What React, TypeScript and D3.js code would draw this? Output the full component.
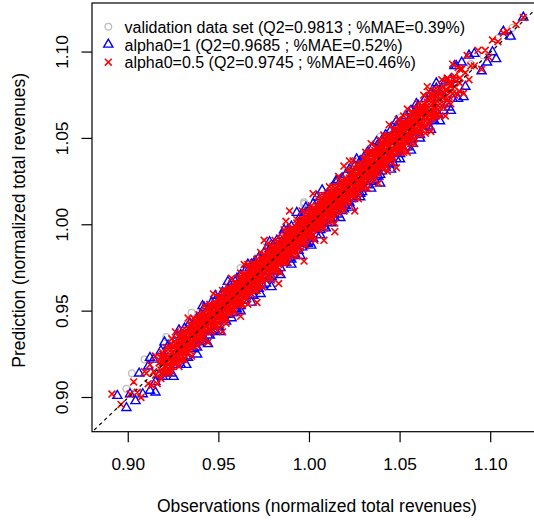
import React from 'react';
import * as d3 from 'd3';

type Pt = [number, number];

const xTicks = [0.9, 0.95, 1.0, 1.05, 1.1];
const yTicks = [0.9, 0.95, 1.0, 1.05, 1.1];
const xTitle = 'Observations (normalized total revenues)';
const yTitle = 'Prediction (normalized total revenues)';
const legendLabels = [
  'validation data set (Q2=0.9813 ; %MAE=0.39%)',
  'alpha0=1 (Q2=0.9685 ; %MAE=0.52%)',
  'alpha0=0.5 (Q2=0.9745 ; %MAE=0.46%)',
];

// [observation, prediction]
const validationPts: Pt[] = [
  [.899,.905],[.902,.914],[.909,.922],[.921,.935],[.935,.949],[.962,.975],[.976,.990],[.997,1.012],[.997,1.013],[1.021,1.033],[1.039,1.051],[1.050,1.062],[1.111,1.109],
  [.905,.903],[.912,.915],[.918,.913],[.923,.927],[.927,.922],[.931,.934],[.934,.931],[.938,.943],[.941,.936],[.944,.947],[.947,.945],[.950,.955],[.952,.947],[.955,.957],[.957,.953],[.959,.964],[.961,.958],[.963,.965],[.965,.961],[.967,.972],[.969,.966],[.971,.973],[.973,.969],[.975,.980],[.977,.974],[.979,.981],[.981,.976],[.983,.988],[.985,.983],[.987,.989],[.989,.984],[.991,.996],[.993,.991],[.995,.997],[.997,.992],[.999,1.004],[1.001,.998],[1.003,1.005],[1.005,1.001],[1.007,1.012],[1.009,1.006],[1.011,1.013],[1.013,1.009],[1.015,1.020],[1.017,1.014],[1.019,1.021],[1.021,1.017],[1.023,1.028],[1.025,1.022],[1.027,1.029],[1.029,1.025],[1.031,1.036],[1.033,1.030],[1.035,1.037],[1.037,1.033],[1.039,1.044],[1.041,1.038],[1.043,1.045],[1.045,1.041],[1.047,1.052],[1.049,1.046],[1.052,1.054],[1.055,1.050],[1.058,1.063],[1.061,1.057],[1.064,1.068],[1.067,1.062],[1.070,1.075],[1.074,1.070],[1.078,1.082],[1.083,1.079],[1.089,1.093],[1.096,1.098],[1.104,1.108],[1.112,1.114],
];

const alpha1Pts: Pt[] = [
  [.894,.901],[.899,.894],
  [.901,.902],[.904,.898],[.906,.914],[.908,.902],
  [.911,.918],[.912,.904],[.914,.922],[.915,.909],[.917,.913],[.918,.927],[.919,.912],
  [.920,.924],[.921,.915],[.922,.930],[.923,.921],[.924,.914],[.925,.930],[.926,.922],[.927,.936],[.927,.919],[.928,.930],[.929,.935],[.929,.919],
  [.930,.933],[.930,.924],[.931,.940],[.932,.924],[.933,.937],[.934,.928],[.934,.943],[.935,.933],[.936,.928],[.936,.943],[.937,.933],[.938,.929],[.938,.946],[.939,.943],[.939,.932],[.933,.923],
  [.940,.948],[.940,.934],[.941,.945],[.942,.933],[.942,.952],[.943,.939],[.944,.950],[.944,.936],[.945,.942],[.946,.955],[.946,.938],[.947,.950],[.947,.941],[.948,.956],[.948,.939],[.949,.953],[.949,.945],[.945,.936],
  [.950,.956],[.950,.941],[.951,.959],[.952,.947],[.952,.961],[.953,.945],[.954,.956],[.954,.944],[.955,.963],[.955,.952],[.956,.948],[.957,.966],[.957,.953],[.958,.949],[.958,.962],[.959,.967],[.959,.951],[.953,.958],[.956,.958],[.951,.949],
  [.960,.969],[.960,.951],[.961,.965],[.962,.953],[.962,.971],[.963,.959],[.964,.956],[.964,.969],[.965,.974],[.965,.959],[.966,.969],[.967,.959],[.967,.975],[.968,.963],[.968,.977],[.969,.959],[.969,.973],[.961,.959],[.963,.967],[.966,.964],
  [.970,.979],[.970,.962],[.971,.975],[.972,.963],[.972,.981],[.973,.968],[.974,.978],[.974,.965],[.975,.984],[.975,.971],[.976,.966],[.977,.983],[.977,.973],[.978,.969],[.978,.986],[.979,.975],[.979,.970],[.971,.969],[.973,.976],[.976,.979],
  [.980,.988],[.980,.971],[.981,.985],[.982,.973],[.982,.991],[.983,.979],[.984,.975],[.984,.989],[.985,.994],[.985,.981],[.986,.978],[.987,.992],[.987,.978],[.988,.984],[.988,.997],[.989,.981],[.989,.993],[.981,.979],[.983,.987],[.986,.985],
  [.990,.999],[.990,.980],[.991,.996],[.992,.983],[.993,1.007],[.993,.989],[.994,.985],[.994,1.000],[.995,1.005],[.995,.989],[.996,.987],[.997,1.003],[.997,.993],[.998,.989],[.998,1.007],[.999,.995],[.999,.989],[.991,.990],[.992,.996],[.996,.998],
  [1.000,1.009],[1.000,.990],[1.001,1.005],[1.002,.992],[1.002,1.012],[1.003,.998],[1.004,.994],[1.004,1.009],[1.005,1.014],[1.005,.999],[1.006,.997],[1.007,1.020],[1.007,1.003],[1.008,.999],[1.008,1.013],[1.009,1.005],[1.009,.998],[1.001,1.000],[1.003,1.006],[1.006,1.008],
  [1.010,1.018],[1.010,1.001],[1.011,1.015],[1.012,1.003],[1.012,1.021],[1.013,1.009],[1.014,1.004],[1.014,1.018],[1.015,1.025],[1.015,1.009],[1.016,1.006],[1.017,1.022],[1.017,1.012],[1.018,1.008],[1.018,1.027],[1.019,1.015],[1.019,1.009],[1.011,1.010],[1.013,1.015],[1.016,1.018],
  [1.020,1.029],[1.020,1.011],[1.021,1.025],[1.022,1.013],[1.022,1.032],[1.023,1.018],[1.024,1.015],[1.024,1.029],[1.025,1.034],[1.025,1.019],[1.026,1.016],[1.027,1.033],[1.027,1.021],[1.028,1.018],[1.028,1.037],[1.029,1.024],[1.029,1.019],[1.023,1.025],
  [1.030,1.039],[1.030,1.021],[1.031,1.035],[1.032,1.023],[1.032,1.042],[1.033,1.028],[1.034,1.025],[1.034,1.039],[1.035,1.045],[1.035,1.029],[1.036,1.026],[1.037,1.043],[1.037,1.031],[1.038,1.028],[1.038,1.047],[1.039,1.035],[1.039,1.029],[1.033,1.035],
  [1.040,1.049],[1.040,1.031],[1.041,1.045],[1.042,1.033],[1.042,1.052],[1.043,1.038],[1.044,1.035],[1.044,1.050],[1.045,1.055],[1.045,1.039],[1.046,1.036],[1.047,1.053],[1.047,1.041],[1.048,1.038],[1.048,1.057],[1.049,1.045],
  [1.050,1.059],[1.050,1.041],[1.051,1.055],[1.052,1.043],[1.053,1.063],[1.054,1.048],[1.054,1.045],[1.055,1.061],[1.056,1.066],[1.056,1.049],[1.057,1.047],[1.058,1.064],[1.059,1.053],[1.059,1.067],
  [1.060,1.069],[1.061,1.052],[1.062,1.066],[1.063,1.055],[1.064,1.073],[1.065,1.059],[1.066,1.057],[1.067,1.073],[1.067,1.076],[1.068,1.061],[1.069,1.060],[1.069,1.075],
  [1.070,1.079],[1.071,1.064],[1.072,1.077],[1.074,1.066],[1.075,1.083],[1.076,1.070],[1.077,1.068],[1.078,1.084],[1.079,1.073],
  [1.080,1.092],[1.082,1.073],[1.084,1.094],[1.086,1.080],[1.088,1.098],
  [1.091,1.099],[1.095,1.089],[1.098,1.094],
  [1.101,1.100],[1.103,1.096],[1.107,1.112],
  [1.111,1.109],[1.118,1.120],
];

// alpha0=1 points lying on the outer edges of the cloud
const alpha1Edge: Pt[] = [
  [.915,.903],[.925,.912],[.932,.919],[.938,.925],[.944,.931],[.951,.938],[.957,.946],[.962,.950],[.968,.955],[.973,.960],[.979,.964],[.984,.971],[.990,.977],[.995,.982],[1.001,.988],[1.006,.994],[1.012,1.001],[1.017,1.004],[1.023,1.010],[1.028,1.016],[1.034,1.021],[1.039,1.024],[1.045,1.032],[1.050,1.038],[1.056,1.043],[1.061,1.050],[1.067,1.055],[1.072,1.060],[1.078,1.066],[1.085,1.074],
  [.912,.923],[.920,.932],[.928,.939],[.941,.953],[.948,.959],[.955,.967],[.966,.977],[.978,.990],[.986,.997],[.998,1.010],[1.004,1.016],[1.015,1.026],[1.026,1.038],[1.037,1.048],[1.048,1.060],[1.059,1.070],[1.070,1.082],[1.081,1.092],
];

const alpha05Pts: Pt[] = [
  [.891,.902],[.896,.896],
  [.901,.902],[.905,.903],[.903,.909],[.907,.900],[.909,.915],
  [.910,.914],[.911,.908],[.912,.919],[.913,.907],[.914,.915],[.915,.924],[.915,.913],[.916,.908],[.917,.920],[.918,.914],[.919,.925],[.919,.919],
  [.920,.922],[.920,.915],[.921,.929],[.921,.920],[.922,.926],[.922,.915],[.923,.923],[.923,.929],[.924,.921],[.924,.934],[.924,.915],[.925,.926],[.925,.921],[.926,.931],[.926,.924],[.926,.938],[.927,.921],[.927,.930],[.928,.927],[.928,.935],[.928,.918],[.929,.931],[.929,.925],[.929,.934],[.929,.922],
  [.930,.933],[.930,.924],[.930,.939],[.931,.929],[.931,.936],[.931,.922],[.931,.932],[.932,.939],[.932,.928],[.932,.932],[.933,.932],[.933,.937],[.933,.926],[.933,.946],[.934,.936],[.934,.929],[.934,.942],[.935,.932],[.935,.941],[.935,.924],[.935,.936],[.936,.940],[.936,.934],[.936,.946],[.937,.931],[.937,.940],[.937,.936],[.937,.944],[.938,.930],[.938,.940],[.938,.943],[.939,.935],[.939,.939],[.939,.948],[.939,.936],
  [.940,.941],[.940,.935],[.940,.946],[.940,.938],[.941,.949],[.941,.938],[.941,.944],[.941,.932],[.942,.942],[.942,.947],[.942,.935],[.942,.953],[.943,.942],[.943,.947],[.943,.939],[.943,.945],[.944,.951],[.944,.938],[.944,.945],[.944,.932],[.945,.948],[.945,.943],[.945,.954],[.945,.940],[.946,.938],[.946,.952],[.946,.946],[.946,.948],[.947,.944],[.947,.951],[.947,.941],[.947,.960],[.948,.949],[.948,.944],[.948,.955],[.948,.947],[.949,.954],[.949,.942],[.949,.951],[.949,.939],
  [.950,.953],[.950,.946],[.950,.958],[.950,.949],[.951,.945],[.951,.952],[.951,.956],[.951,.942],[.952,.954],[.952,.949],[.952,.962],[.952,.947],[.953,.953],[.953,.959],[.953,.946],[.953,.956],[.954,.952],[.954,.958],[.954,.943],[.954,.961],[.955,.956],[.955,.951],[.955,.964],[.955,.954],[.956,.951],[.956,.959],[.956,.948],[.956,.962],[.957,.959],[.957,.955],[.957,.969],[.957,.951],[.958,.962],[.958,.955],[.958,.959],[.958,.949],[.959,.966],[.959,.958],[.959,.955],[.959,.964],[.952,.938],[.958,.961],
  [.960,.962],[.960,.955],[.960,.966],[.960,.959],[.961,.958],[.961,.969],[.961,.953],[.961,.962],[.962,.966],[.962,.960],[.962,.972],[.962,.956],[.963,.963],[.963,.968],[.963,.954],[.963,.966],[.964,.960],[.964,.971],[.964,.963],[.964,.966],[.965,.971],[.965,.958],[.965,.966],[.965,.962],[.966,.969],[.966,.961],[.966,.977],[.966,.954],[.967,.965],[.967,.971],[.967,.961],[.967,.975],[.968,.969],[.968,.964],[.968,.973],[.968,.960],[.969,.968],[.969,.978],[.969,.966],[.969,.971],[.962,.947],[.964,.977],[.967,.967],[.960,.964],
  [.970,.973],[.970,.964],[.970,.977],[.970,.968],[.971,.967],[.971,.972],[.971,.980],[.971,.962],[.972,.977],[.972,.971],[.972,.965],[.972,.974],[.973,.984],[.973,.970],[.973,.977],[.973,.968],[.974,.974],[.974,.980],[.974,.964],[.974,.975],[.975,.973],[.975,.983],[.975,.969],[.975,.978],[.976,.978],[.976,.972],[.976,.981],[.976,.968],[.977,.976],[.977,.984],[.977,.974],[.977,.989],[.978,.982],[.978,.972],[.978,.979],[.978,.976],[.979,.974],[.979,.982],[.979,.988],[.979,.968],[.975,.991],[.971,.955],[.978,.978],[.973,.978],[.976,.975],
  [.980,.981],[.980,.976],[.980,.986],[.980,.973],[.981,.984],[.981,.980],[.981,.991],[.981,.976],[.982,.980],[.982,.987],[.982,.973],[.982,.984],[.983,.990],[.983,.980],[.983,.983],[.983,.977],[.984,.988],[.984,.972],[.984,.985],[.984,.992],[.985,.981],[.985,.987],[.985,.984],[.985,.991],[.986,.979],[.986,.989],[.986,.997],[.986,.983],[.987,.988],[.987,.982],[.987,.992],[.987,.979],[.988,.990],[.988,.986],[.988,.997],[.988,.978],[.989,.988],[.989,.993],[.989,.983],[.989,.996],[.983,.966],[.987,1.002],[.981,.983],[.985,.983],[.989,.989],
  [.990,.993],[.990,.985],[.990,.998],[.990,.989],[.991,.988],[.991,.992],[.991,.997],[.991,.982],[.992,.996],[.992,.985],[.992,.994],[.992,.990],[.993,1.003],[.993,.989],[.993,.993],[.993,.982],[.994,.999],[.994,.993],[.994,.988],[.994,.997],[.995,1.002],[.995,.992],[.995,.996],[.995,.987],[.996,.991],[.996,.998],[.996,1.008],[.996,.994],[.997,1.001],[.997,.990],[.997,.996],[.997,1.003],[.998,.994],[.998,.999],[.998,1.007],[.998,.988],[.999,1.001],[.999,.996],[.999,.993],[.999,1.004],[.989,1.008],[.997,.979],[.991,.995],[.995,.991],[.999,.999],
  [1.000,1.001],[1.000,.996],[1.000,1.007],[1.000,.993],[1.001,.999],[1.001,1.005],[1.001,1.011],[1.001,.992],[1.002,1.005],[1.002,.997],[1.002,1.002],[1.002,1.001],[1.003,1.009],[1.003,1.000],[1.003,.991],[1.003,1.005],[1.004,.998],[1.004,1.009],[1.004,1.005],[1.004,1.002],[1.005,1.013],[1.005,1.001],[1.005,1.008],[1.005,.997],[1.006,1.005],[1.006,1.017],[1.006,1.001],[1.006,1.010],[1.007,1.009],[1.007,1.000],[1.007,1.004],[1.007,1.013],[1.008,.998],[1.008,1.009],[1.008,1.017],[1.008,1.006],[1.009,1.014],[1.009,1.003],[1.009,1.008],[1.009,1.012],[1.002,1.018],[1.008,.991],[1.004,1.006],[1.001,.998],[1.006,1.006],
  [1.010,1.012],[1.010,1.007],[1.010,1.018],[1.010,1.002],[1.011,1.015],[1.011,1.010],[1.011,1.005],[1.011,1.022],[1.012,1.008],[1.012,1.013],[1.012,1.018],[1.012,1.002],[1.013,1.016],[1.013,1.011],[1.013,1.006],[1.013,1.022],[1.014,1.014],[1.014,1.019],[1.014,1.009],[1.014,1.001],[1.015,1.022],[1.015,1.012],[1.015,1.017],[1.015,1.014],[1.016,1.010],[1.016,1.020],[1.016,1.028],[1.016,1.007],[1.017,1.018],[1.017,1.013],[1.017,1.023],[1.017,1.015],[1.018,1.021],[1.018,1.011],[1.018,1.017],[1.018,1.026],[1.019,1.014],[1.019,1.021],[1.019,1.024],[1.019,1.008],[1.014,.996],[1.019,1.034],[1.012,1.015],[1.016,1.016],
  [1.020,1.021],[1.020,1.015],[1.020,1.027],[1.020,1.018],[1.021,1.032],[1.021,1.013],[1.021,1.024],[1.021,1.020],[1.022,1.018],[1.022,1.027],[1.022,1.012],[1.022,1.024],[1.023,1.031],[1.023,1.020],[1.023,1.023],[1.023,1.017],[1.024,1.028],[1.024,1.017],[1.024,1.025],[1.024,1.037],[1.025,1.023],[1.025,1.031],[1.025,1.016],[1.025,1.028],[1.026,1.021],[1.026,1.028],[1.026,1.035],[1.026,1.025],[1.027,1.031],[1.027,1.023],[1.027,1.015],[1.027,1.034],[1.028,1.028],[1.028,1.031],[1.028,1.022],[1.028,1.026],[1.029,1.034],[1.029,1.026],[1.025,1.008],[1.022,1.037],[1.029,1.030],[1.027,1.019],
  [1.030,1.032],[1.030,1.026],[1.030,1.038],[1.030,1.021],[1.031,1.030],[1.031,1.036],[1.031,1.025],[1.031,1.042],[1.032,1.035],[1.032,1.030],[1.032,1.021],[1.032,1.038],[1.033,1.033],[1.033,1.028],[1.033,1.042],[1.033,1.035],[1.034,1.031],[1.034,1.038],[1.034,1.026],[1.034,1.047],[1.035,1.036],[1.035,1.034],[1.035,1.042],[1.035,1.029],[1.036,1.041],[1.036,1.032],[1.036,1.026],[1.036,1.038],[1.037,1.035],[1.037,1.045],[1.037,1.040],[1.037,1.030],[1.038,1.044],[1.038,1.035],[1.038,1.038],[1.038,1.024],[1.039,1.043],[1.039,1.034],[1.039,1.049],[1.039,1.038],
  [1.040,1.043],[1.040,1.034],[1.040,1.047],[1.040,1.038],[1.041,1.037],[1.041,1.042],[1.041,1.052],[1.041,1.032],[1.042,1.047],[1.042,1.041],[1.042,1.035],[1.042,1.044],[1.043,1.043],[1.043,1.051],[1.043,1.040],[1.043,1.031],[1.044,1.048],[1.044,1.039],[1.044,1.058],[1.044,1.045],[1.045,1.043],[1.045,1.051],[1.045,1.037],[1.045,1.048],[1.046,1.048],[1.046,1.042],[1.046,1.055],[1.046,1.036],[1.047,1.046],[1.047,1.052],[1.047,1.041],[1.048,1.055],[1.048,1.045],[1.048,1.049],[1.049,1.044],[1.049,1.052],[1.049,1.061],[1.048,1.033],
  [1.050,1.052],[1.050,1.046],[1.050,1.058],[1.050,1.042],[1.051,1.051],[1.051,1.056],[1.051,1.045],[1.052,1.055],[1.052,1.050],[1.052,1.063],[1.052,1.042],[1.053,1.059],[1.053,1.048],[1.053,1.054],[1.054,1.051],[1.054,1.058],[1.054,1.067],[1.054,1.042],[1.055,1.062],[1.055,1.054],[1.055,1.048],[1.056,1.058],[1.056,1.052],[1.056,1.065],[1.056,1.047],[1.057,1.061],[1.057,1.055],[1.057,1.051],[1.058,1.059],[1.058,1.064],[1.058,1.047],[1.059,1.056],[1.059,1.067],[1.059,1.062],
  [1.060,1.063],[1.060,1.055],[1.060,1.070],[1.061,1.059],[1.061,1.066],[1.061,1.052],[1.062,1.063],[1.062,1.069],[1.062,1.058],[1.063,1.056],[1.063,1.075],[1.063,1.065],[1.064,1.063],[1.064,1.068],[1.064,1.053],[1.065,1.071],[1.065,1.062],[1.065,1.080],[1.066,1.060],[1.066,1.068],[1.067,1.075],[1.067,1.065],[1.067,1.054],[1.068,1.072],[1.068,1.063],[1.069,1.070],[1.069,1.078],[1.066,1.077],
  [1.070,1.072],[1.070,1.064],[1.071,1.078],[1.071,1.069],[1.072,1.063],[1.072,1.076],[1.073,1.074],[1.073,1.084],[1.074,1.070],[1.074,1.080],[1.075,1.063],[1.075,1.078],[1.076,1.085],[1.076,1.075],[1.077,1.071],[1.077,1.082],[1.078,1.080],[1.078,1.070],[1.079,1.093],[1.079,1.076],
  [1.080,1.084],[1.081,1.076],[1.082,1.091],[1.083,1.082],[1.084,1.090],[1.085,1.076],[1.086,1.088],[1.087,1.098],[1.088,1.084],[1.089,1.092],
  [1.091,1.092],[1.093,1.101],[1.095,1.090],[1.097,1.101],[1.099,1.097],
  [1.101,1.107],[1.104,1.106],[1.107,1.111],[1.109,1.112],
  [1.114,1.116],[1.118,1.120],
];

// dense core of the alpha0=0.5 series
const alpha05Core: Pt[] = [
  [.918,.923],[.918,.916],[.918,.911],[.919,.920],[.919,.926],[.919,.915],[.920,.914],[.920,.923],[.920,.920],[.921,.929],[.921,.918],[.921,.923],
  [.922,.921],[.922,.914],[.922,.926],[.923,.929],[.923,.923],[.923,.918],[.924,.926],[.924,.918],[.924,.931],[.925,.922],[.925,.929],[.925,.924],
  [.926,.931],[.926,.924],[.926,.919],[.927,.928],[.927,.934],[.927,.923],[.928,.922],[.928,.931],[.928,.928],[.929,.937],[.929,.926],[.929,.931],
  [.930,.929],[.930,.922],[.930,.934],[.931,.937],[.931,.931],[.931,.926],[.932,.934],[.932,.926],[.932,.939],[.933,.930],[.933,.937],[.933,.932],
  [.934,.939],[.934,.932],[.934,.927],[.935,.936],[.935,.942],[.935,.931],[.936,.930],[.936,.939],[.936,.936],[.937,.945],[.937,.934],[.937,.939],
  [.938,.937],[.938,.930],[.938,.942],[.939,.945],[.939,.939],[.939,.934],[.940,.942],[.940,.934],[.940,.947],[.941,.938],[.941,.945],[.941,.940],
  [.942,.947],[.942,.940],[.942,.935],[.943,.944],[.943,.950],[.943,.939],[.944,.938],[.944,.947],[.944,.944],[.945,.953],[.945,.942],[.945,.947],
  [.946,.945],[.946,.938],[.946,.950],[.947,.953],[.947,.947],[.947,.942],[.948,.950],[.948,.942],[.948,.955],[.949,.946],[.949,.953],[.949,.948],
  [.950,.955],[.950,.948],[.950,.943],[.951,.952],[.951,.958],[.951,.947],[.952,.946],[.952,.955],[.952,.952],[.953,.961],[.953,.950],[.953,.955],
  [.954,.953],[.954,.946],[.954,.958],[.955,.961],[.955,.955],[.955,.950],[.956,.958],[.956,.950],[.956,.963],[.957,.954],[.957,.961],[.957,.956],
  [.958,.963],[.958,.956],[.958,.951],[.959,.960],[.959,.966],[.959,.955],[.960,.954],[.960,.963],[.960,.960],[.961,.969],[.961,.958],[.961,.963],
  [.962,.961],[.962,.954],[.962,.966],[.963,.969],[.963,.963],[.963,.958],[.964,.966],[.964,.958],[.964,.971],[.965,.962],[.965,.969],[.965,.964],
  [.966,.971],[.966,.964],[.966,.959],[.967,.968],[.967,.974],[.967,.963],[.968,.962],[.968,.971],[.968,.968],[.969,.977],[.969,.966],[.969,.971],
  [.970,.969],[.970,.962],[.970,.974],[.971,.977],[.971,.971],[.971,.966],[.972,.974],[.972,.966],[.972,.979],[.973,.970],[.973,.977],[.973,.972],
  [.974,.979],[.974,.972],[.974,.967],[.975,.976],[.975,.982],[.975,.971],[.976,.970],[.976,.979],[.976,.976],[.977,.985],[.977,.974],[.977,.979],
  [.978,.977],[.978,.970],[.978,.982],[.979,.985],[.979,.979],[.979,.974],[.980,.982],[.980,.974],[.980,.987],[.981,.978],[.981,.985],[.981,.980],
  [.982,.987],[.982,.980],[.982,.975],[.983,.984],[.983,.990],[.983,.979],[.984,.978],[.984,.987],[.984,.984],[.985,.993],[.985,.982],[.985,.987],
  [.986,.985],[.986,.978],[.986,.990],[.987,.993],[.987,.987],[.987,.982],[.988,.990],[.988,.982],[.988,.995],[.989,.986],[.989,.993],[.989,.988],
  [.990,.995],[.990,.988],[.990,.983],[.991,.992],[.991,.998],[.991,.987],[.992,.986],[.992,.995],[.992,.992],[.993,1.001],[.993,.990],[.993,.995],
  [.994,.993],[.994,.986],[.994,.998],[.995,1.001],[.995,.995],[.995,.990],[.996,.998],[.996,.990],[.996,1.003],[.997,.994],[.997,1.001],[.997,.996],
  [.998,1.003],[.998,.996],[.998,.991],[.999,1.000],[.999,1.006],[.999,.995],[1.000,.994],[1.000,1.003],[1.000,1.000],[1.001,1.009],[1.001,.998],[1.001,1.003],
  [1.002,1.001],[1.002,.994],[1.002,1.006],[1.003,1.009],[1.003,1.003],[1.003,.998],[1.004,1.006],[1.004,.998],[1.004,1.011],[1.005,1.002],[1.005,1.009],[1.005,1.004],
  [1.006,1.011],[1.006,1.004],[1.006,.999],[1.007,1.008],[1.007,1.014],[1.007,1.003],[1.008,1.002],[1.008,1.011],[1.008,1.008],[1.009,1.017],[1.009,1.006],[1.009,1.011],
  [1.010,1.009],[1.010,1.002],[1.010,1.014],[1.011,1.017],[1.011,1.011],[1.011,1.006],[1.012,1.014],[1.012,1.006],[1.012,1.019],[1.013,1.010],[1.013,1.017],[1.013,1.012],
  [1.014,1.019],[1.014,1.012],[1.014,1.007],[1.015,1.016],[1.015,1.022],[1.015,1.011],[1.016,1.010],[1.016,1.019],[1.016,1.016],[1.017,1.025],[1.017,1.014],[1.017,1.019],
  [1.018,1.017],[1.018,1.010],[1.018,1.022],[1.019,1.025],[1.019,1.019],[1.019,1.014],[1.020,1.022],[1.020,1.014],[1.020,1.027],[1.021,1.018],[1.021,1.025],[1.021,1.020],
  [1.022,1.027],[1.022,1.020],[1.022,1.015],[1.023,1.024],[1.023,1.030],[1.023,1.019],[1.024,1.018],[1.024,1.027],[1.024,1.024],[1.025,1.033],[1.025,1.022],[1.025,1.027],
  [1.026,1.025],[1.026,1.018],[1.026,1.030],[1.027,1.033],[1.027,1.027],[1.027,1.022],[1.028,1.030],[1.028,1.022],[1.028,1.035],[1.029,1.026],[1.029,1.033],[1.029,1.028],
  [1.030,1.035],[1.030,1.028],[1.030,1.023],[1.031,1.032],[1.031,1.038],[1.031,1.027],[1.032,1.026],[1.032,1.035],[1.032,1.032],[1.033,1.041],[1.033,1.030],[1.033,1.035],
  [1.034,1.033],[1.034,1.026],[1.034,1.038],[1.035,1.041],[1.035,1.035],[1.035,1.030],[1.036,1.038],[1.036,1.030],[1.036,1.043],[1.037,1.034],[1.037,1.041],[1.037,1.036],
  [1.038,1.043],[1.038,1.036],[1.038,1.031],[1.039,1.040],[1.039,1.046],[1.039,1.035],[1.040,1.034],[1.040,1.043],[1.040,1.040],[1.041,1.049],[1.041,1.038],[1.041,1.043],
  [1.042,1.041],[1.042,1.034],[1.042,1.046],[1.043,1.049],[1.043,1.043],[1.043,1.038],[1.044,1.046],[1.044,1.038],[1.044,1.051],[1.045,1.042],[1.045,1.049],[1.045,1.044],
  [1.046,1.051],[1.046,1.044],[1.046,1.039],[1.047,1.048],[1.047,1.054],[1.047,1.043],[1.048,1.042],[1.048,1.051],[1.048,1.048],[1.049,1.057],[1.049,1.046],[1.049,1.051],
  [1.050,1.049],[1.050,1.042],[1.050,1.054],[1.051,1.057],[1.051,1.051],[1.051,1.046],[1.052,1.054],[1.052,1.046],[1.052,1.059],[1.053,1.050],[1.053,1.057],[1.053,1.052],
  [1.054,1.059],[1.054,1.052],[1.054,1.047],[1.055,1.056],[1.055,1.062],[1.055,1.051],[1.056,1.050],[1.056,1.059],[1.056,1.056],[1.057,1.065],[1.057,1.054],[1.057,1.059],
  [1.058,1.057],[1.058,1.050],[1.058,1.062],[1.059,1.065],[1.059,1.059],[1.059,1.054],[1.060,1.062],[1.060,1.054],[1.060,1.067],[1.061,1.058],[1.061,1.065],[1.061,1.060],
  [1.062,1.067],[1.062,1.060],[1.062,1.055],[1.063,1.064],[1.063,1.070],[1.063,1.059],[1.064,1.058],[1.064,1.067],[1.064,1.064],[1.065,1.073],[1.065,1.062],[1.065,1.067],
  [1.066,1.065],[1.066,1.058],[1.066,1.070],[1.067,1.073],[1.067,1.067],[1.067,1.062],[1.068,1.070],[1.068,1.062],[1.068,1.075],[1.069,1.066],[1.069,1.073],[1.069,1.068],
  [1.070,1.075],[1.070,1.068],[1.070,1.063],[1.072,1.073],[1.072,1.079],[1.072,1.068],[1.074,1.068],[1.074,1.077],[1.074,1.074],[1.076,1.084],[1.076,1.073],[1.076,1.078],
  [1.078,1.077],[1.078,1.070],[1.078,1.081],[1.080,1.086],[1.080,1.080],[1.080,1.075],[1.083,1.085],[1.083,1.077],[1.083,1.090],
];

const GRAY = '#BEBEBE';
const BLUE = '#0000FF';
const RED = '#FF0000';
const FONT = '"Liberation Sans", Arial, Helvetica, sans-serif';

const R = 3.4; // symbol base radius

function circlePath(pts: [number, number][]) {
  const p = d3.path();
  for (const [cx, cy] of pts) {
    p.moveTo(cx + R, cy);
    p.arc(cx, cy, R, 0, Math.PI * 2);
  }
  return p.toString();
}
function trianglePath(pts: [number, number][]) {
  const p = d3.path();
  const r = R * 1.5551;
  for (const [cx, cy] of pts) {
    p.moveTo(cx, cy - r);
    p.lineTo(cx + r * 0.866, cy + r * 0.5);
    p.lineTo(cx - r * 0.866, cy + r * 0.5);
    p.closePath();
  }
  return p.toString();
}
function crossPath(pts: [number, number][]) {
  const p = d3.path();
  for (const [cx, cy] of pts) {
    p.moveTo(cx - R, cy - R);
    p.lineTo(cx + R, cy + R);
    p.moveTo(cx - R, cy + R);
    p.lineTo(cx + R, cy - R);
  }
  return p.toString();
}

export default function App() {
  const W = 534;
  const H = 523;
  const left = 92, right = 541.8, top = 3, bottom = 431.7;
  const x = d3.scaleLinear().domain([0.88, 1.1282]).range([left, right]);
  const y = d3.scaleLinear().domain([0.8802, 1.1284]).range([bottom, top]);
  const proj = (pts: Pt[]) => pts.map(([o, p]) => [x(o), y(p)] as [number, number]);
  const fmt = d3.format('.2f');
  const diag = d3.line<number>().x((v) => x(v)).y((v) => y(v))([0.87, 1.14]) || '';

  const legendX = 108.3;
  const legendRows = [26.7, 44.5, 62.2];
  const blueAll = alpha1Edge.concat(alpha1Pts);
  const redAll = alpha05Core.concat(alpha05Pts);

  return (
    <svg
      width={W}
      height={H}
      viewBox={`0 0 ${W} ${H}`}
      style={{ position: 'absolute', left: 0, top: 0, background: '#fff', fontFamily: FONT }}
    >
      <defs>
        <clipPath id="plotClip">
          <rect x={left} y={top} width={right - left} height={bottom - top} />
        </clipPath>
      </defs>
      <rect x={0} y={0} width={W} height={H} fill="#fff" />
      <g clipPath="url(#plotClip)">
        <path d={circlePath(proj(validationPts))} fill="none" stroke={GRAY} strokeWidth={1.3} />
        <path d={trianglePath(proj(blueAll))} fill="none" stroke={BLUE} strokeWidth={1.4} />
        <path d={crossPath(proj(redAll))} fill="none" stroke={RED} strokeWidth={1.6} />
        <path d={diag} fill="none" stroke="#000" strokeWidth={1.2} strokeDasharray="3.5,3.5" />
      </g>
      <rect x={left} y={top} width={right - left} height={bottom - top} fill="none" stroke="#000" strokeWidth={1.2} />
      {xTicks.map((t) => (
        <g key={'x' + t}>
          <line x1={x(t)} x2={x(t)} y1={bottom} y2={bottom + 10.5} stroke="#000" strokeWidth={1.2} />
          <text x={x(t)} y={470} fontSize={17.3} textAnchor="middle" fill="#000">
            {fmt(t)}
          </text>
        </g>
      ))}
      {yTicks.map((t) => (
        <g key={'y' + t}>
          <line x1={left - 10.5} x2={left} y1={y(t)} y2={y(t)} stroke="#000" strokeWidth={1.2} />
          <text
            transform={`translate(67.5,${y(t)}) rotate(-90)`}
            fontSize={17.3}
            textAnchor="middle"
            fill="#000"
          >
            {fmt(t)}
          </text>
        </g>
      ))}
      <text x={(left + right) / 2} y={512} fontSize={17.5} textAnchor="middle" fill="#000">
        {xTitle}
      </text>
      <text
        transform={`translate(25,${(top + bottom) / 2 + 3}) rotate(-90)`}
        fontSize={17.5}
        textAnchor="middle"
        fill="#000"
      >
        {yTitle}
      </text>
      <path d={circlePath([[legendX, legendRows[0]]])} fill="none" stroke={GRAY} strokeWidth={1.3} />
      <path d={trianglePath([[legendX, legendRows[1]]])} fill="none" stroke={BLUE} strokeWidth={1.4} />
      <path d={crossPath([[legendX, legendRows[2]]])} fill="none" stroke={RED} strokeWidth={1.5} />
      {legendLabels.map((l, i) => (
        <text key={l} x={124.5} y={legendRows[i] + 6} fontSize={16} fill="#000">
          {l}
        </text>
      ))}
    </svg>
  );
}
